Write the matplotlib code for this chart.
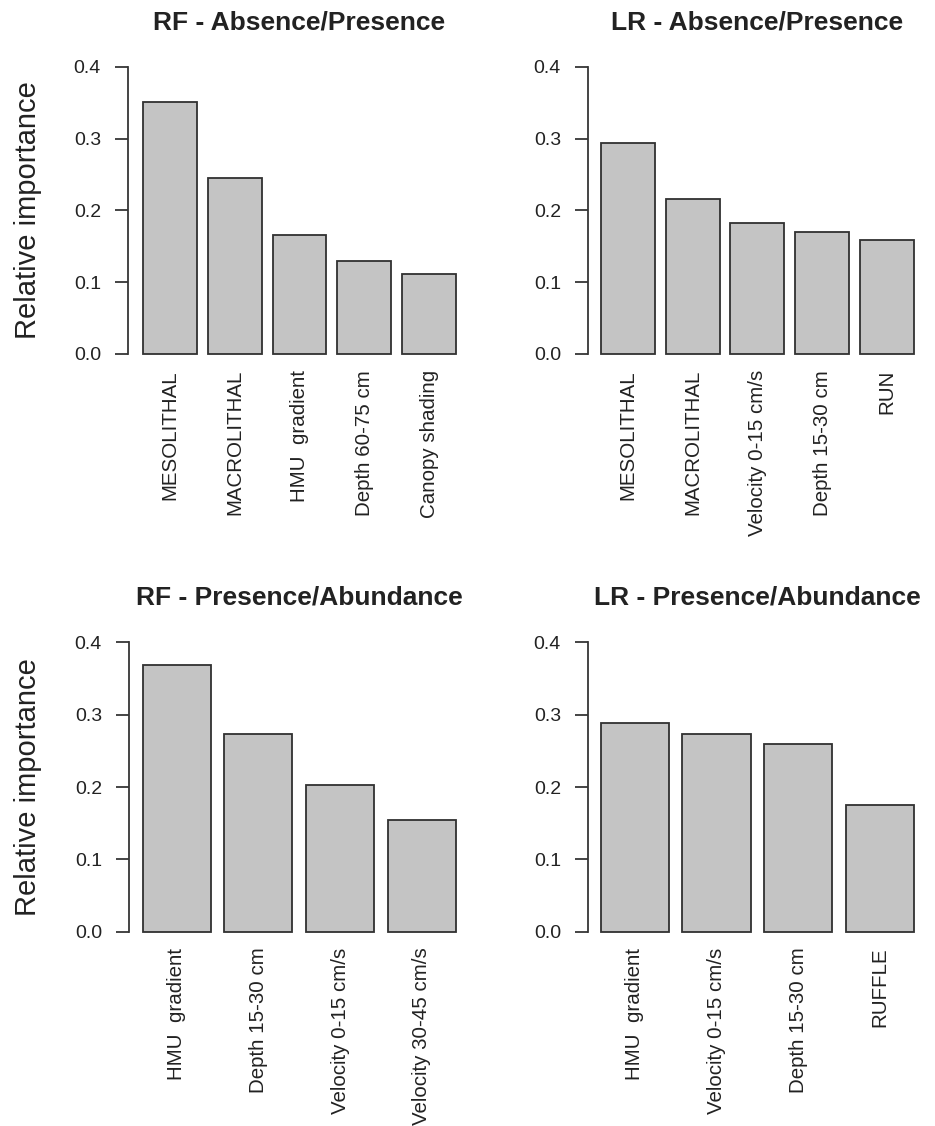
import matplotlib
matplotlib.use("Agg")
import matplotlib.pyplot as plt

plt.rcParams['font.family'] = ['Liberation Sans', 'DejaVu Sans']

# data
rf_ap_labels = ["MESOLITHAL", "MACROLITHAL", "HMU  gradient", "Depth 60-75 cm", "Canopy shading"]
rf_ap_values = [0.351, 0.245, 0.165, 0.129, 0.111]

lr_ap_labels = ["MESOLITHAL", "MACROLITHAL", "Velocity 0-15 cm/s", "Depth 15-30 cm", "RUN"]
lr_ap_values = [0.294, 0.216, 0.183, 0.170, 0.159]

rf_pa_labels = ["HMU  gradient", "Depth 15-30 cm", "Velocity 0-15 cm/s", "Velocity 30-45 cm/s"]
rf_pa_values = [0.368, 0.273, 0.203, 0.155]

lr_pa_labels = ["HMU  gradient", "Velocity 0-15 cm/s", "Depth 15-30 cm", "RUFFLE"]
lr_pa_values = [0.288, 0.273, 0.260, 0.175]

y_ticks = [0.0, 0.1, 0.2, 0.3, 0.4]

W, H = 935, 1126
TXT = '#222222'
AXC = '#363636'
FILL = '#c4c4c4'

fig = plt.figure(figsize=(W / 100, H / 100), dpi=100)


# R-style barplot (space=0.2) placed by pixel geometry
def barpanel(spine_x, bar_l, bar_r, y0, y4, labels, values, title, ylabel=None):
    n = len(values)
    span = 1.2 * n - 0.2
    ppu = (bar_r - bar_l) / span
    pad = (bar_l - spine_x) / ppu
    xlim = (0.2 - pad, 1.2 * n + pad)
    ppy = (y0 - y4) / 0.4
    ext = 0.016
    left = spine_x
    right = spine_x + (xlim[1] - xlim[0]) * ppu
    top = y4 - ext * ppy
    bottom = y0 + ext * ppy
    ax = fig.add_axes([left / W, 1 - bottom / H, (right - left) / W, (bottom - top) / H])

    lefts = [0.2 + 1.2 * i for i in range(n)]
    centers = [l + 0.5 for l in lefts]
    ax.bar(lefts, values, width=1.0, align='edge', color=FILL,
           edgecolor='#303030', linewidth=1.3)
    ax.set_xlim(*xlim)
    ax.set_ylim(-ext, 0.4 + ext)

    for s in ['top', 'right', 'bottom']:
        ax.spines[s].set_visible(False)
    ax.spines['left'].set_bounds(0, 0.4)
    ax.spines['left'].set_color(AXC)
    ax.spines['left'].set_linewidth(1.3)

    ax.set_yticks(y_ticks)
    ax.set_yticklabels([f"{t:.1f}" for t in y_ticks])
    ax.tick_params(axis='y', length=9.5, width=1.3, color=AXC, pad=10,
                   labelsize=14, labelcolor=TXT)
    ax.set_xticks(centers)
    ax.set_xticklabels(labels, rotation=90)
    ax.tick_params(axis='x', length=0, pad=3.2, labelsize=14.8, labelcolor=TXT)

    fig.text(((left + right) / 2) / W, 1 - (y4 - 44.7) / H, title,
             ha='center', va='center', fontsize=19, fontweight='bold', color=TXT)
    if ylabel:
        fig.text(28 / W, 1 - ((y0 + y4) / 2) / H, ylabel, rotation=90,
                 ha='center', va='center', fontsize=21, color=TXT)
    return ax


barpanel(128, 143, 456, 354, 66.7, rf_ap_labels, rf_ap_values,
         "RF - Absence/Presence", "Relative importance")
barpanel(588, 600.7, 914, 354, 66.7, lr_ap_labels, lr_ap_values,
         "LR - Absence/Presence")
barpanel(129, 142.5, 456, 931.7, 642.3, rf_pa_labels, rf_pa_values,
         "RF - Presence/Abundance", "Relative importance")
barpanel(588, 600.7, 914, 931.7, 642.3, lr_pa_labels, lr_pa_values,
         "LR - Presence/Abundance")

fig.savefig("out.png", dpi=100)
